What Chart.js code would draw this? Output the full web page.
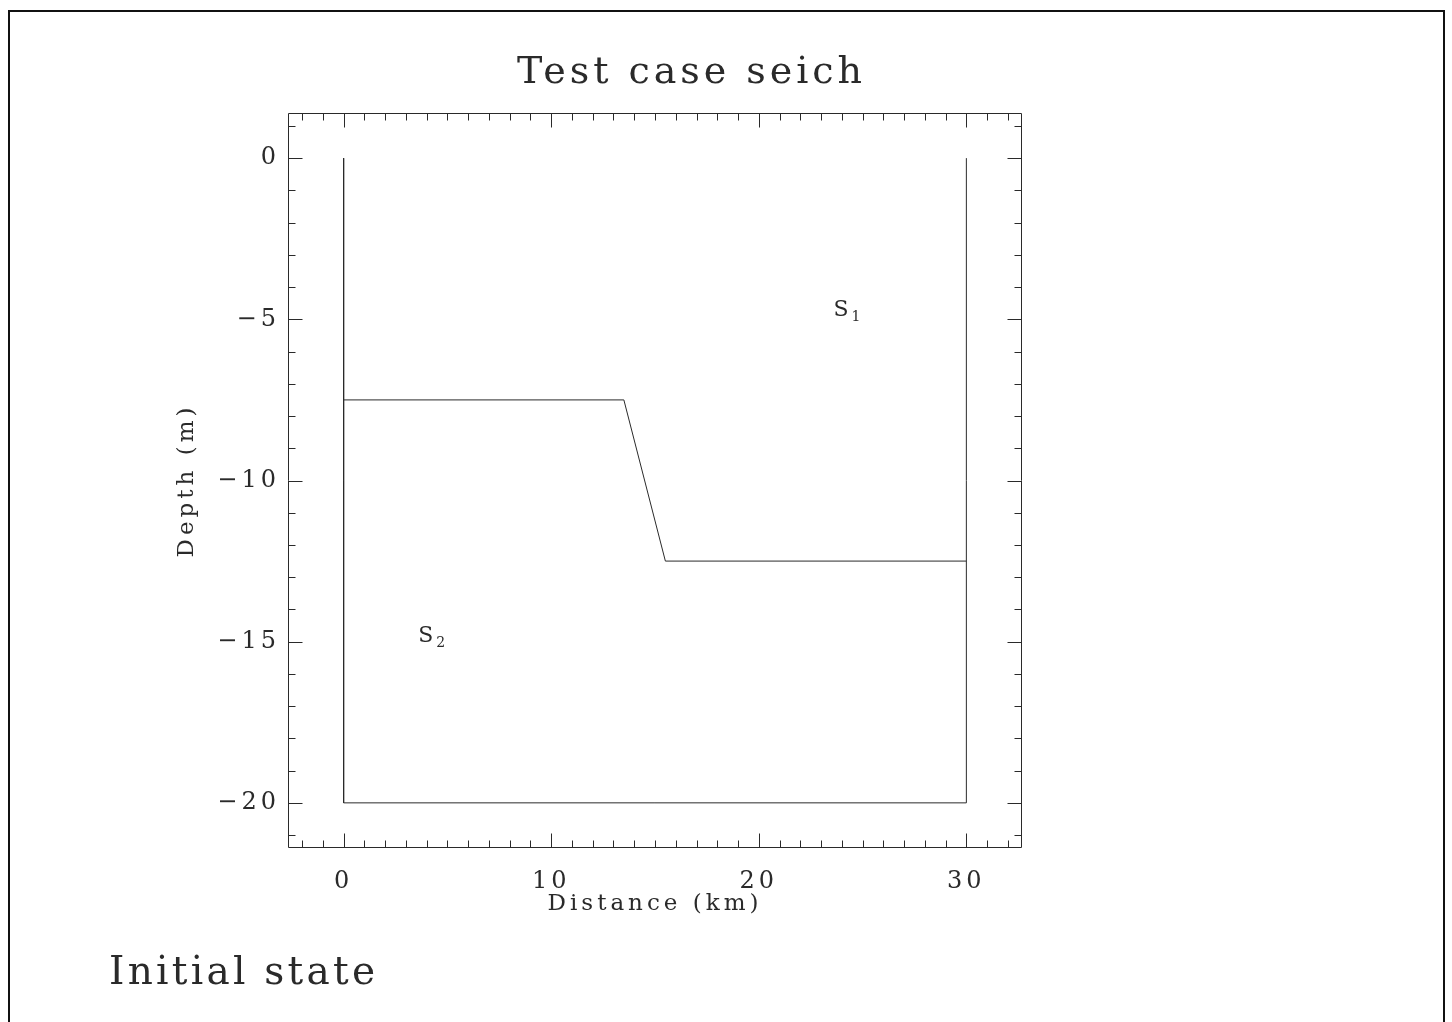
<!DOCTYPE html>
<html><head><meta charset="utf-8">
<script src="https://cdn.jsdelivr.net/npm/chart.js@4/dist/chart.umd.min.js"></script>
<style>html,body{margin:0;padding:0;background:#fff;overflow:hidden}canvas{display:block}</style>
</head><body>
<canvas id="c" width="1452" height="1022"></canvas>
<script>
// ---- data ----
const chartTitle = 'Test case seich';
const footnote = 'Initial state';
const xAxisTitle = 'Distance (km)';
const yAxisTitle = 'Depth (m)';
const xTickValues = [0, 10, 20, 30];
const yTickValues = [0, -5, -10, -15, -20];
const xRange = [-2.68, 32.68];
const yRange = [-21.4, 1.4];
const basinX = [0, 0, 30, 30];
const basinY = [0, -20, -20, 0];
const interfaceX = [0, 13.5, 15.5, 30];
const interfaceY = [-7.5, -7.5, -12.5, -12.5];
const layerBase = ['S', 'S'];
const layerSub = ['1', '2'];
const layerX = [23.5, 3.5];
const layerY = [-4.9, -15];

// ---- style ----
const FONT = '"DejaVu Serif", "Liberation Serif", serif';
const INK = '#2a2a2a';

function fmt(v) { return v < 0 ? '\u2212' + Math.abs(v) : String(v); }

function fitText(ctx, text, x, y, width) {
  ctx.letterSpacing = '0px';
  const w0 = ctx.measureText(text).width;
  const sp = (width - w0) / (text.length - 1);
  ctx.letterSpacing = sp + 'px';
  ctx.fillText(text, x, y);
  ctx.letterSpacing = '0px';
}

const spacingPlugin = {
  id: 'spacing',
  beforeDraw(chart) { chart.ctx.letterSpacing = '4px'; }
};

const decor = {
  id: 'decor',
  afterDraw(chart) {
    const ctx = chart.ctx, a = chart.chartArea;
    const xs = chart.scales.x, ys = chart.scales.y;
    ctx.save();
    ctx.letterSpacing = '0px';
    ctx.strokeStyle = INK;
    ctx.lineWidth = 1;
    const L = Math.round(a.left) + 0.5, R = Math.round(a.right) - 0.5;
    const T = Math.round(a.top) + 0.5, B = Math.round(a.bottom) - 0.5;
    ctx.beginPath();
    ctx.rect(L, T, R - L, B - T);
    for (let v = Math.ceil(xRange[0]); v <= Math.floor(xRange[1]); v++) {
      const len = xTickValues.includes(v) ? 14 : 7;
      const p = Math.round(xs.getPixelForValue(v)) + 0.5;
      ctx.moveTo(p, B); ctx.lineTo(p, B - len);
      ctx.moveTo(p, T); ctx.lineTo(p, T + len);
    }
    for (let v = Math.ceil(yRange[0]); v <= Math.floor(yRange[1]); v++) {
      const len = yTickValues.includes(v) ? 14 : 7;
      const p = Math.round(ys.getPixelForValue(v)) + 0.5;
      ctx.moveTo(L, p); ctx.lineTo(L + len, p);
      ctx.moveTo(R, p); ctx.lineTo(R - len, p);
    }
    ctx.stroke();

    ctx.fillStyle = INK;
    ctx.textAlign = 'left';
    ctx.textBaseline = 'alphabetic';
    for (let i = 0; i < layerBase.length; i++) {
      const px = xs.getPixelForValue(layerX[i]);
      const py = ys.getPixelForValue(layerY[i]);
      ctx.font = '22px ' + FONT;
      ctx.fillText(layerBase[i], px + 2, py);
      const w = ctx.measureText(layerBase[i]).width;
      ctx.font = '14px ' + FONT;
      ctx.fillText(layerSub[i], px + w + 5, py + 5);
    }

    ctx.font = '38px ' + FONT;
    fitText(ctx, chartTitle, 517, 83, 345);
    ctx.font = '39px ' + FONT;
    fitText(ctx, footnote, 109, 984, 266);

    ctx.lineWidth = 2;
    ctx.strokeStyle = '#111';
    ctx.strokeRect(9, 11, 1435, 1100);
    ctx.restore();
  }
};

new Chart(document.getElementById('c').getContext('2d'), {
  type: 'scatter',
  data: {
    datasets: [
      { label: 'basin', data: basinX.map((x, i) => ({ x, y: basinY[i] })), showLine: true,
        borderColor: INK, borderWidth: 1, pointRadius: 0, fill: false, tension: 0 },
      { label: 'interface', data: interfaceX.map((x, i) => ({ x, y: interfaceY[i] })), showLine: true,
        borderColor: INK, borderWidth: 1, pointRadius: 0, fill: false, tension: 0 }
    ]
  },
  options: {
    responsive: false,
    animation: false,
    devicePixelRatio: 1,
    layout: { padding: { left: 0, top: 113, right: 430, bottom: 104 } },
    plugins: { legend: { display: false }, tooltip: { enabled: false }, title: { display: false } },
    scales: {
      x: {
        type: 'linear', min: xRange[0], max: xRange[1],
        grid: { display: false, drawTicks: false }, border: { display: false },
        afterBuildTicks: s => { s.ticks = xTickValues.map(v => ({ value: v })); },
        afterFit: s => { s.height = 70; },
        ticks: { padding: 19, color: INK, font: { family: FONT, size: 24 }, maxRotation: 0, autoSkip: false,
                 callback: v => fmt(v) },
        title: { display: true, text: xAxisTitle, color: INK, font: { family: FONT, size: 23 },
                 padding: { top: 0, bottom: 0 } }
      },
      y: {
        type: 'linear', min: yRange[0], max: yRange[1],
        grid: { display: false, drawTicks: false }, border: { display: false },
        afterBuildTicks: s => { s.ticks = yTickValues.map(v => ({ value: v })); },
        afterFit: s => { s.width = 288; },
        ticks: { padding: 8, color: INK, font: { family: FONT, size: 24 }, autoSkip: false,
                 callback: v => fmt(v) },
        title: { display: true, text: yAxisTitle, color: INK, font: { family: FONT, size: 23 },
                 padding: { top: 173, bottom: 0 } }
      }
    }
  },
  plugins: [spacingPlugin, decor]
});
</script>
</body></html>
